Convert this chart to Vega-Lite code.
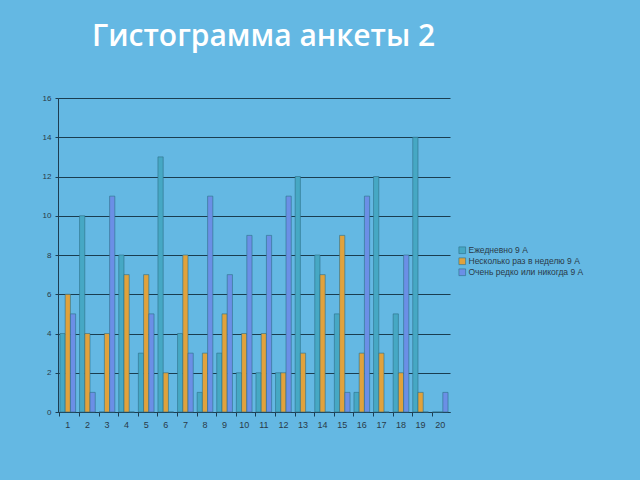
{
  "$schema": "https://vega.github.io/schema/vega-lite/v6.json",
  "width": 392,
  "height": 314,
  "autosize": {"type": "none"},
  "padding": {"left": 58, "top": 98, "right": 190, "bottom": 68},
  "background": "#64b8e3",
  "title": {
    "text": "Гистограмма анкеты 2",
    "anchor": "start",
    "frame": "group",
    "orient": "top",
    "dx": 34,
    "offset": 12,
    "baseline": "bottom",
    "font": "Open Sans",
    "fontSize": 30,
    "fontWeight": 600,
    "color": "#ffffff"
  },
  "data": {
    "values": [
      {"q": 1, "s": "Ежедневно  9 А", "v": 4}, {"q": 1, "s": "Несколько раз в неделю 9 А", "v": 6}, {"q": 1, "s": "Очень редко или никогда 9 А", "v": 5},
      {"q": 2, "s": "Ежедневно  9 А", "v": 10}, {"q": 2, "s": "Несколько раз в неделю 9 А", "v": 4}, {"q": 2, "s": "Очень редко или никогда 9 А", "v": 1},
      {"q": 3, "s": "Ежедневно  9 А", "v": 0}, {"q": 3, "s": "Несколько раз в неделю 9 А", "v": 4}, {"q": 3, "s": "Очень редко или никогда 9 А", "v": 11},
      {"q": 4, "s": "Ежедневно  9 А", "v": 8}, {"q": 4, "s": "Несколько раз в неделю 9 А", "v": 7}, {"q": 4, "s": "Очень редко или никогда 9 А", "v": 0},
      {"q": 5, "s": "Ежедневно  9 А", "v": 3}, {"q": 5, "s": "Несколько раз в неделю 9 А", "v": 7}, {"q": 5, "s": "Очень редко или никогда 9 А", "v": 5},
      {"q": 6, "s": "Ежедневно  9 А", "v": 13}, {"q": 6, "s": "Несколько раз в неделю 9 А", "v": 2}, {"q": 6, "s": "Очень редко или никогда 9 А", "v": 0},
      {"q": 7, "s": "Ежедневно  9 А", "v": 4}, {"q": 7, "s": "Несколько раз в неделю 9 А", "v": 8}, {"q": 7, "s": "Очень редко или никогда 9 А", "v": 3},
      {"q": 8, "s": "Ежедневно  9 А", "v": 1}, {"q": 8, "s": "Несколько раз в неделю 9 А", "v": 3}, {"q": 8, "s": "Очень редко или никогда 9 А", "v": 11},
      {"q": 9, "s": "Ежедневно  9 А", "v": 3}, {"q": 9, "s": "Несколько раз в неделю 9 А", "v": 5}, {"q": 9, "s": "Очень редко или никогда 9 А", "v": 7},
      {"q": 10, "s": "Ежедневно  9 А", "v": 2}, {"q": 10, "s": "Несколько раз в неделю 9 А", "v": 4}, {"q": 10, "s": "Очень редко или никогда 9 А", "v": 9},
      {"q": 11, "s": "Ежедневно  9 А", "v": 2}, {"q": 11, "s": "Несколько раз в неделю 9 А", "v": 4}, {"q": 11, "s": "Очень редко или никогда 9 А", "v": 9},
      {"q": 12, "s": "Ежедневно  9 А", "v": 2}, {"q": 12, "s": "Несколько раз в неделю 9 А", "v": 2}, {"q": 12, "s": "Очень редко или никогда 9 А", "v": 11},
      {"q": 13, "s": "Ежедневно  9 А", "v": 12}, {"q": 13, "s": "Несколько раз в неделю 9 А", "v": 3}, {"q": 13, "s": "Очень редко или никогда 9 А", "v": 0},
      {"q": 14, "s": "Ежедневно  9 А", "v": 8}, {"q": 14, "s": "Несколько раз в неделю 9 А", "v": 7}, {"q": 14, "s": "Очень редко или никогда 9 А", "v": 0},
      {"q": 15, "s": "Ежедневно  9 А", "v": 5}, {"q": 15, "s": "Несколько раз в неделю 9 А", "v": 9}, {"q": 15, "s": "Очень редко или никогда 9 А", "v": 1},
      {"q": 16, "s": "Ежедневно  9 А", "v": 1}, {"q": 16, "s": "Несколько раз в неделю 9 А", "v": 3}, {"q": 16, "s": "Очень редко или никогда 9 А", "v": 11},
      {"q": 17, "s": "Ежедневно  9 А", "v": 12}, {"q": 17, "s": "Несколько раз в неделю 9 А", "v": 3}, {"q": 17, "s": "Очень редко или никогда 9 А", "v": 0},
      {"q": 18, "s": "Ежедневно  9 А", "v": 5}, {"q": 18, "s": "Несколько раз в неделю 9 А", "v": 2}, {"q": 18, "s": "Очень редко или никогда 9 А", "v": 8},
      {"q": 19, "s": "Ежедневно  9 А", "v": 14}, {"q": 19, "s": "Несколько раз в неделю 9 А", "v": 1}, {"q": 19, "s": "Очень редко или никогда 9 А", "v": 0},
      {"q": 20, "s": "Ежедневно  9 А", "v": 0}, {"q": 20, "s": "Несколько раз в неделю 9 А", "v": 0}, {"q": 20, "s": "Очень редко или никогда 9 А", "v": 1}
    ]
  },
  "mark": {"type": "bar", "stroke": "#2d6f86", "strokeWidth": 0.6},
  "encoding": {
    "x": {
      "field": "q",
      "type": "ordinal",
      "scale": {"paddingInner": 0.2, "paddingOuter": 0.1},
      "axis": {
        "title": null,
        "labelAngle": 0,
        "labelFont": "Liberation Sans",
        "labelFontSize": 9,
        "labelColor": "#2a3a48",
        "domainColor": "#1d3d52",
        "tickColor": "#1d3d52",
        "tickSize": 4,
        "bandPosition": 0,
        "labelPadding": 4
      }
    },
    "xOffset": {"field": "s", "type": "nominal"},
    "y": {
      "field": "v",
      "type": "quantitative",
      "scale": {"domain": [0, 16], "nice": false},
      "axis": {
        "title": null,
        "values": [0, 2, 4, 6, 8, 10, 12, 14, 16],
        "labelFont": "Liberation Sans",
        "labelFontSize": 8,
        "labelColor": "#2a3a48",
        "domainColor": "#1d3d52",
        "gridColor": "#1a3d50",
        "gridOpacity": 1,
        "tickColor": "#1d3d52",
        "tickSize": 3,
        "labelPadding": 4
      }
    },
    "color": {
      "field": "s",
      "type": "nominal",
      "scale": {
        "domain": ["Ежедневно  9 А", "Несколько раз в неделю 9 А", "Очень редко или никогда 9 А"],
        "range": ["#46a8c4", "#e1a23c", "#6b8fe6"]
      },
      "legend": {
        "title": null,
        "orient": "none",
        "legendX": 400,
        "legendY": 148,
        "symbolType": "square",
        "symbolSize": 45,
        "symbolStrokeColor": "#2d6f86",
        "symbolStrokeWidth": 0.6,
        "labelFont": "Liberation Sans",
        "labelFontSize": 8.5,
        "labelColor": "#2a3a48",
        "rowPadding": 1,
        "labelOffset": 2
      }
    }
  },
  "config": {
    "view": {"stroke": null}
  }
}
